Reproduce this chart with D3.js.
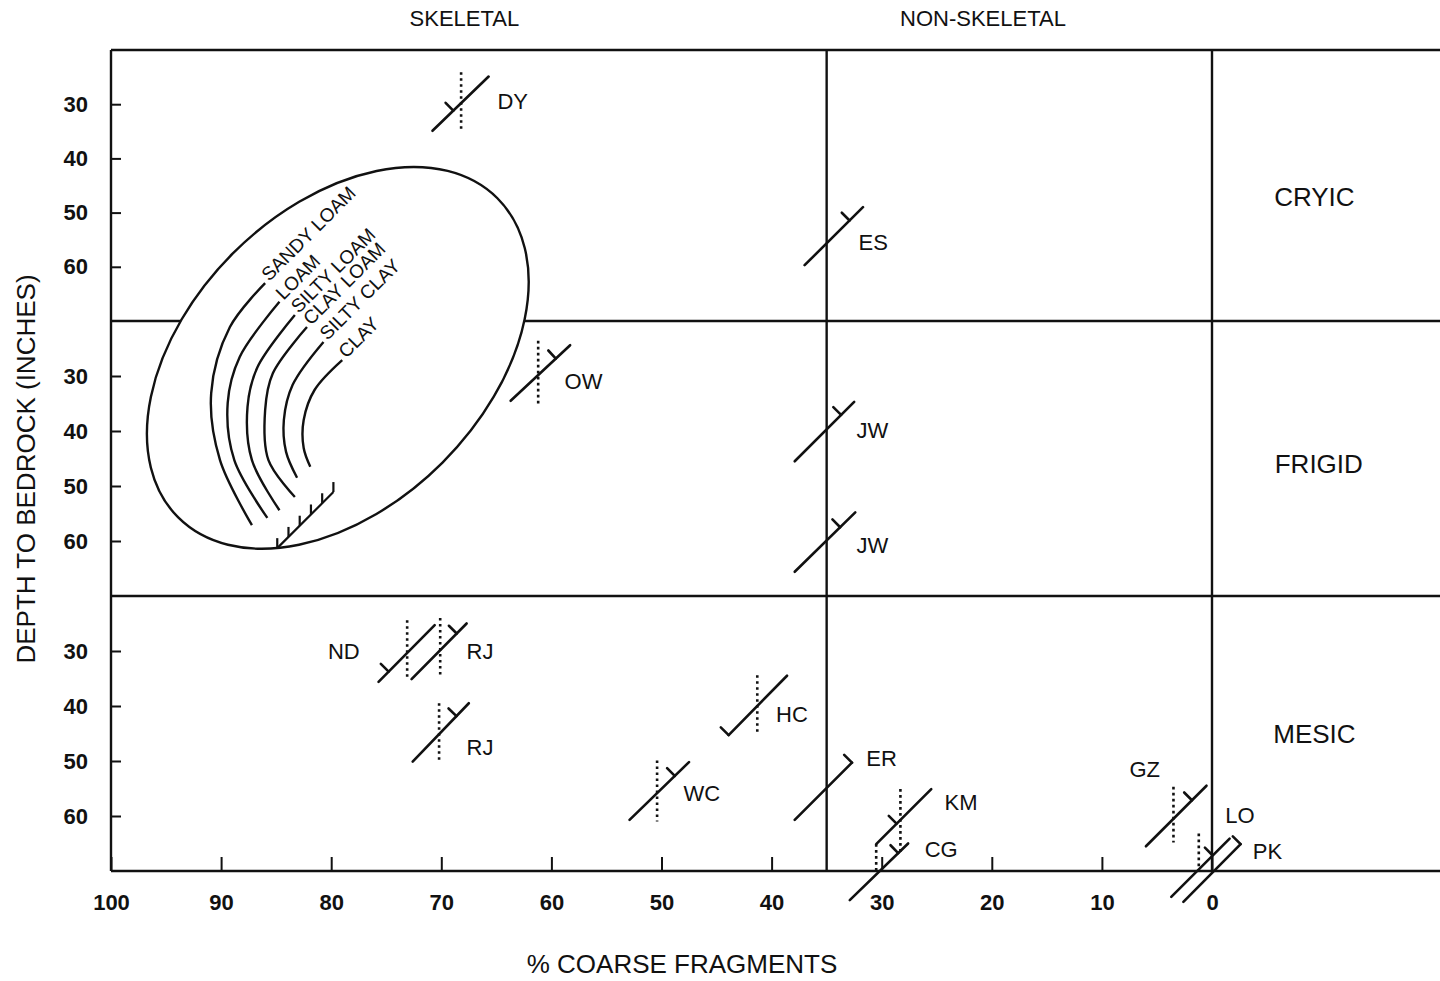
<!DOCTYPE html>
<html><head><meta charset="utf-8">
<script src="https://cdn.jsdelivr.net/npm/d3@7"></script>
<style>
html,body{margin:0;padding:0;background:#fff;}
svg{display:block;}
text{font-family:"Liberation Sans",Arial,Helvetica,sans-serif;fill:#111;}
</style></head><body>
<svg id="chart" width="1440" height="981"></svg>
<script>
// ---------- data ----------
const xTicks = [100, 90, 80, 70, 60, 50, 40, 30, 20, 10, 0];
const depthTicks = [30, 40, 50, 60];
const depthDomain = [20, 70];
const regimes = ["CRYIC", "FRIGID", "MESIC"];
const regimeLabelAt = [[-9.3, 47.1], [-9.7, 46.0], [-9.3, 45.1]];
const groups = ["SKELETAL", "NON-SKELETAL"];
const groupLabelAt = [67.9, 20.8];
const skeletalLimit = 35;

const soilNames  = ["DY","OW","ND","RJ","RJ","HC","WC","ES","JW","JW","ER","KM","CG","GZ","LO","PK"];
const soilRegime = [0, 1, 2, 2, 2, 2, 2, 0, 1, 1, 2, 2, 2, 2, 2, 2];
// diagonal symbol ends: [% coarse fragments, depth in inches]
const lowEnd  = [[70.8,34.9],[63.7,34.5],[75.7,35.6],[72.7,35.1],[72.6,50.1],[43.9,45.3],[52.9,60.7],[37.0,59.7],
                 [37.9,45.5],[37.9,65.6],[37.9,60.7],[30.5,65.1],[32.9,75.3],[6.0,65.5],[3.7,74.7],[2.6,75.6]];
const highEnd = [[65.7,24.9],[58.3,24.4],[70.6,25.3],[67.7,25.0],[67.5,39.5],[38.6,34.5],[47.5,50.2],[31.7,49.0],
                 [32.5,34.7],[32.4,54.8],[32.7,50.3],[25.5,55.1],[27.6,65.0],[0.5,54.5],[-1.6,64.1],[-2.6,65.1]];
// where the side tick sits along the symbol (0 = lower end, 1 = upper end)
const tickAt = [0.37, 0.76, 0.18, 0.82, 0.78, 0, 0.76, 0.77, 0.78, 0.75, 1, 0.37, 0.83, 0.76, 0.71, 1];
// dotted vertical: [% coarse fragments, top depth, bottom depth]
const dotLine = [[68.2,24.1,35.1],[61.2,23.6,35.0],[73.1,24.4,35.0],[70.1,24.0,34.7],[70.2,39.5,49.8],
                 [41.3,34.4,44.7],[50.4,49.9,61.0],null,null,null,null,[28.3,55.1,66.5],[30.5,65.1,70.3],
                 [3.5,54.7,64.8],[1.2,63.2,70.0],null];
const labelAt = [[64.9,29.4],[58.8,30.9],[80.3,30.0],[67.7,30.0],[67.7,47.5],[39.6,41.5],[48.0,55.8],[32.1,55.4],
                 [32.3,39.8],[32.3,60.7],[31.4,49.5],[24.3,57.5],[26.1,66.0],[7.5,51.5],[-1.2,59.8],[-3.7,66.4]];

// texture guide (drawn in FRIGID-panel coordinates)
const textureNames = ["SANDY LOAM","LOAM","SILTY LOAM","CLAY LOAM","SILTY CLAY","CLAY"];
const textureArcs = [
  [[86.0,13.1],[89.2,21.1],[90.9,33.1],[90.1,45.3],[87.2,57.1]],
  [[84.7,16.5],[88.3,26.5],[89.4,34.9],[88.8,45.3],[85.8,55.8]],
  [[83.3,18.9],[86.7,28.4],[87.6,35.6],[87.2,45.3],[84.7,54.4]],
  [[82.2,21.1],[85.3,29.5],[86.0,36.2],[85.7,45.3],[83.3,52.0]],
  [[80.7,23.8],[83.5,31.6],[84.3,38.0],[84.1,43.8],[83.1,48.5]],
  [[79.0,27.1],[81.5,32.5],[82.5,38.0],[82.5,43.1],[81.9,46.5]]
];
const textureBase = [[84.9,61.3],[79.8,51.1]];
const textureBaseTicks = [0, 0.2, 0.4, 0.6, 0.8, 1];
const ellipseCenter = [79.4, 26.7];
const ellipseAxes = [20.5, 13.45]; // semi-axes in % units

// ---------- layout ----------
const W = 1440, H = 981;
const svg = d3.select("#chart");
const x = d3.scaleLinear().domain([100, 0]).range([111, 1212]);
const panelRanges = [[50, 321], [321, 596], [596, 871]];
const panelY = panelRanges.map(r => d3.scaleLinear().domain(depthDomain).range(r));
const frameRight = W;
const frameTop = panelRanges[0][0], frameBottom = panelRanges[2][1];
const ink = "#111";

const g = svg.append("g");
function seg(x1, y1, x2, y2, w) {
  return g.append("line").attr("x1", x1).attr("y1", y1).attr("x2", x2).attr("y2", y2)
    .attr("stroke", ink).attr("stroke-width", w || 2.4).attr("stroke-linecap", "butt");
}

// frame
seg(x(100), frameTop, frameRight, frameTop);
panelRanges.forEach(r => seg(x(100), r[1], frameRight, r[1]));
seg(x(100), frameTop, x(100), frameBottom);
seg(x(skeletalLimit), frameTop, x(skeletalLimit), frameBottom);
seg(x(0), frameTop, x(0), frameBottom);

// y axes
panelY.forEach(ys => {
  const ax = g.append("g").attr("transform", `translate(${x(100)},0)`)
    .call(d3.axisLeft(ys).tickValues(depthTicks).tickSize(-10).tickPadding(23));
  ax.select(".domain").remove();
  ax.selectAll("line").attr("stroke", ink).attr("stroke-width", 2);
  ax.selectAll("text").attr("font-size", 22).attr("fill", ink)
    .attr("font-family", "'Liberation Sans',Arial,sans-serif").attr("font-weight", "bold");
});

// x axis
const xa = g.append("g").attr("transform", `translate(0,${frameBottom})`)
  .call(d3.axisBottom(x).tickValues(xTicks).tickSize(-14).tickPadding(23));
xa.select(".domain").remove();
xa.selectAll("line").attr("stroke", ink).attr("stroke-width", 2);
xa.selectAll("text").attr("font-size", 22).attr("fill", ink)
  .attr("font-family", "'Liberation Sans',Arial,sans-serif").attr("font-weight", "bold");

// titles
g.append("text").attr("x", 682).attr("y", 964).attr("dy", "0.35em").attr("text-anchor", "middle")
  .attr("font-size", 26).text("% COARSE FRAGMENTS");
g.append("text").attr("transform", "translate(26,469) rotate(-90)").attr("dy", "0.35em")
  .attr("text-anchor", "middle").attr("font-size", 26).text("DEPTH TO BEDROCK (INCHES)");
groups.forEach((t, i) => g.append("text").attr("x", x(groupLabelAt[i])).attr("y", 18).attr("dy", "0.35em")
  .attr("text-anchor", "middle").attr("font-size", 22).text(t));
regimes.forEach((t, i) => g.append("text").attr("x", x(regimeLabelAt[i][0]))
  .attr("y", panelY[i](regimeLabelAt[i][1])).attr("dy", "0.35em")
  .attr("text-anchor", "middle").attr("font-size", 26).text(t));

// texture ellipse
const yF = panelY[1];
const pxPerPct = Math.abs(x(0) - x(1));
const ecx = x(ellipseCenter[0]), ecy = yF(ellipseCenter[1]);
g.append("ellipse").attr("cx", ecx).attr("cy", ecy)
  .attr("rx", ellipseAxes[0] * pxPerPct).attr("ry", ellipseAxes[1] * pxPerPct)
  .attr("transform", `rotate(-45,${ecx},${ecy})`)
  .attr("fill", "#fff").attr("stroke", ink).attr("stroke-width", 2.4);

const arcLine = d3.line().x(d => x(d[0])).y(d => yF(d[1])).curve(d3.curveCatmullRom.alpha(0.5));
textureArcs.forEach((pts, i) => {
  g.append("path").attr("d", arcLine(pts)).attr("fill", "none").attr("stroke", ink).attr("stroke-width", 2.4);
  const sx = x(pts[0][0]) + 4, sy = yF(pts[0][1]) - 1;
  g.append("text").attr("transform", `translate(${sx},${sy}) rotate(-45)`)
    .attr("font-size", 19).text(textureNames[i]);
});
const b0 = [x(textureBase[0][0]), yF(textureBase[0][1])], b1 = [x(textureBase[1][0]), yF(textureBase[1][1])];
seg(b0[0], b0[1], b1[0], b1[1], 2.2);
textureBaseTicks.forEach(t => {
  const bx = b0[0] + (b1[0] - b0[0]) * t, by = b0[1] + (b1[1] - b0[1]) * t;
  seg(bx, by, bx, by - 10, 2.2);
});

// soil symbols
soilNames.forEach((name, i) => {
  const ys = panelY[soilRegime[i]];
  const p0 = [x(lowEnd[i][0]), ys(lowEnd[i][1])], p1 = [x(highEnd[i][0]), ys(highEnd[i][1])];
  const dl = dotLine[i];
  if (dl) {
    g.append("line").attr("x1", x(dl[0])).attr("x2", x(dl[0])).attr("y1", ys(dl[1])).attr("y2", ys(dl[2]))
      .attr("stroke", ink).attr("stroke-width", 2.6).attr("stroke-dasharray", "2.6,3.4");
  }
  seg(p0[0], p0[1], p1[0], p1[1], 2.6).attr("stroke-linecap", "round");
  const dx = p1[0] - p0[0], dy = p1[1] - p0[1], len = Math.hypot(dx, dy);
  const nx = dy / len, ny = -dx / len;
  const t = tickAt[i];
  const bx = p0[0] + dx * t, by = p0[1] + dy * t;
  seg(bx, by, bx + nx * 11, by + ny * 11, 2.6).attr("stroke-linecap", "round");
  g.append("text").attr("x", x(labelAt[i][0])).attr("y", ys(labelAt[i][1])).attr("dy", "0.35em")
    .attr("font-size", 22).text(name);
});
</script>
</body></html>
